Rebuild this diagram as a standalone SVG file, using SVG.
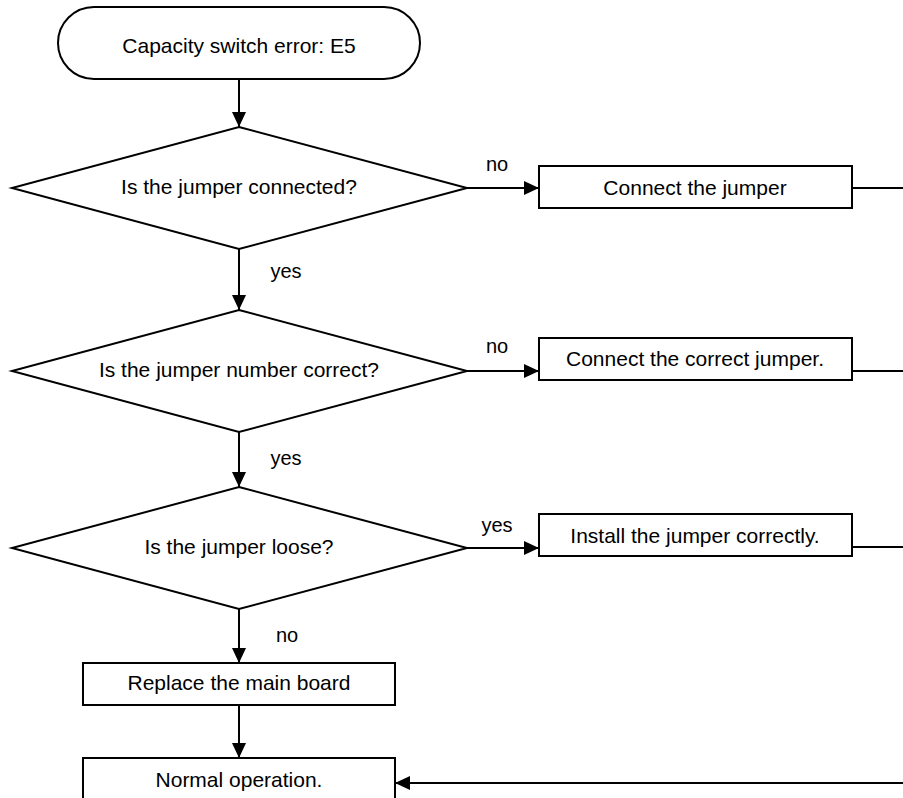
<svg xmlns="http://www.w3.org/2000/svg" width="903" height="798" viewBox="0 0 903 798">
  <style>
    .shape { fill: #ffffff; stroke: #000000; stroke-width: 2; }
    .txt { font-family: "Liberation Sans", Arial, sans-serif; font-size: 21px; fill: #000000; text-anchor: middle; }
    .lbl { font-family: "Liberation Sans", Arial, sans-serif; font-size: 20px; fill: #000000; text-anchor: middle; }
    .wire { fill: none; stroke: #000000; stroke-width: 2; }
  </style>
  <defs>
    <marker id="arrow" markerUnits="userSpaceOnUse" markerWidth="16" markerHeight="14" refX="15" refY="7" orient="auto">
      <path d="M0,0 L15,7 L0,14 Z" fill="#000000"/>
    </marker>
  </defs>

  <rect width="903" height="798" fill="#ffffff"/>

  <!-- connectors -->
  <g id="connectors">
    <line class="wire" x1="239" y1="79" x2="239" y2="127" marker-end="url(#arrow)"/>
    <line class="wire" x1="239" y1="249" x2="239" y2="310" marker-end="url(#arrow)"/>
    <line class="wire" x1="239" y1="432" x2="239" y2="487" marker-end="url(#arrow)"/>
    <line class="wire" x1="239" y1="609" x2="239" y2="663" marker-end="url(#arrow)"/>
    <line class="wire" x1="239" y1="705" x2="239" y2="758" marker-end="url(#arrow)"/>
    <line class="wire" x1="467" y1="188" x2="539" y2="188" marker-end="url(#arrow)"/>
    <line class="wire" x1="467" y1="371" x2="539" y2="371" marker-end="url(#arrow)"/>
    <line class="wire" x1="467" y1="548" x2="539" y2="548" marker-end="url(#arrow)"/>
    <line class="wire" x1="852" y1="188" x2="903" y2="188"/>
    <line class="wire" x1="852" y1="371" x2="903" y2="371"/>
    <line class="wire" x1="852" y1="547" x2="903" y2="547"/>
    <line class="wire" x1="903" y1="783" x2="395" y2="783" marker-end="url(#arrow)"/>
    <text class="lbl" x="286" y="278">yes</text>
    <text class="lbl" x="286" y="465">yes</text>
    <text class="lbl" x="287" y="642">no</text>
    <text class="lbl" x="497" y="171">no</text>
    <text class="lbl" x="497" y="353">no</text>
    <text class="lbl" x="497" y="532">yes</text>
  </g>

  <g id="start">
    <rect class="shape" x="58" y="7" width="362" height="72" rx="36" ry="36"/>
    <text class="txt" x="239" y="53">Capacity switch error: E5</text>
  </g>

  <g id="check-connected">
    <polygon class="shape" points="239,127 467,188 239,249 12,188"/>
    <text class="txt" x="239" y="194">Is the jumper connected?</text>
  </g>

  <g id="connect-jumper">
    <rect class="shape" x="539" y="166" width="313" height="42"/>
    <text class="txt" x="695" y="195">Connect the jumper</text>
  </g>

  <g id="check-number">
    <polygon class="shape" points="239,310 467,371 239,432 12,371"/>
    <text class="txt" x="239" y="377">Is the jumper number correct?</text>
  </g>

  <g id="connect-correct">
    <rect class="shape" x="539" y="338" width="313" height="42"/>
    <text class="txt" x="695" y="366">Connect the correct jumper.</text>
  </g>

  <g id="check-loose">
    <polygon class="shape" points="239,487 467,548 239,609 12,548"/>
    <text class="txt" x="239" y="554">Is the jumper loose?</text>
  </g>

  <g id="install-jumper">
    <rect class="shape" x="539" y="514" width="313" height="42"/>
    <text class="txt" x="695" y="543">Install the jumper correctly.</text>
  </g>

  <g id="replace-board">
    <rect class="shape" x="83" y="663" width="312" height="42"/>
    <text class="txt" x="239" y="690">Replace the main board</text>
  </g>

  <g id="normal-operation">
    <rect class="shape" x="83" y="758" width="312" height="60"/>
    <text class="txt" x="239" y="787">Normal operation.</text>
  </g>
</svg>
